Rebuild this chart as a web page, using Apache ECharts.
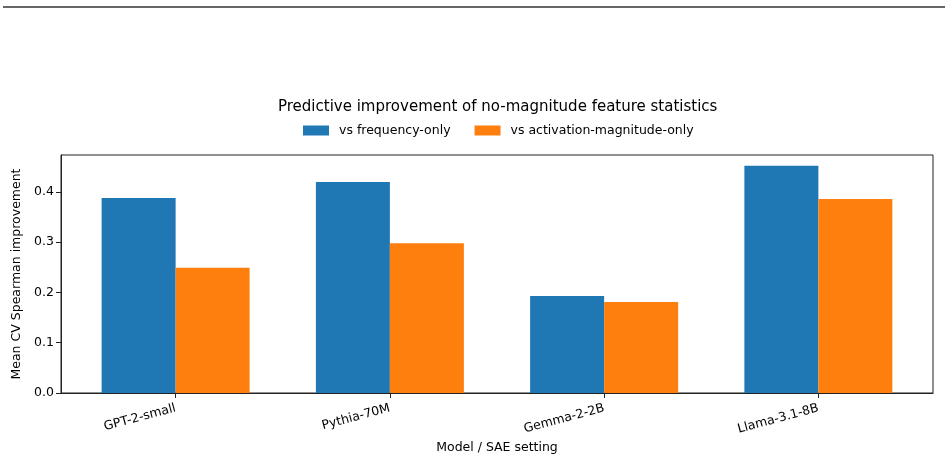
<!DOCTYPE html>
<html>
<head>
<meta charset="utf-8">
<script src="https://cdn.jsdelivr.net/npm/echarts@6/dist/echarts.min.js"></script>
<style>
  html, body { margin: 0; padding: 0; background: #fff; }
  #chart { width: 948px; height: 460px; }
</style>
</head>
<body>
<div id="chart"></div>
<script>
// data
const models = ['GPT-2-small', 'Pythia-70M', 'Gemma-2-2B', 'Llama-3.1-8B'];
const vsFrequency = [0.388, 0.420, 0.193, 0.452];
const vsMagnitude = [0.249, 0.298, 0.181, 0.386];
const yTicks = [0, 0.1, 0.2, 0.3, 0.4];

const font = 'DejaVu Sans';
const positions = models.map((m, i) => i);

const chart = echarts.init(document.getElementById('chart'));

chart.setOption({
  animation: false,
  textStyle: { fontFamily: font },
  graphic: [
    // thin rule across the top of the figure
    { type: 'line', shape: { x1: 3, y1: 7, x2: 945, y2: 7 }, style: { stroke: '#333', lineWidth: 1.5 } }
  ],
  title: {
    text: 'Predictive improvement of no-magnitude feature statistics',
    left: 273,
    top: 95,
    textStyle: { fontFamily: font, fontSize: 15, fontWeight: 'normal', color: '#000' }
  },
  legend: {
    left: 303,
    top: 124,
    padding: 0,
    itemWidth: 26,
    itemHeight: 10,
    itemGap: 24,
    icon: 'rect',
    textStyle: { fontFamily: font, fontSize: 12.5, color: '#000', padding: [0, 0, 0, 5] }
  },
  grid: {
    left: 61, right: 15, top: 155, bottom: 67,
    outerBoundsMode: 'none',
    show: true, borderColor: '#222', borderWidth: 1, backgroundColor: 'transparent'
  },
  xAxis: {
    type: 'value',
    min: -0.535,
    max: 3.535,
    name: 'Model / SAE setting',
    nameLocation: 'middle',
    nameGap: 48,
    nameTextStyle: { fontFamily: font, fontSize: 12.5, color: '#000' },
    axisLine: { show: true, onZero: false, lineStyle: { color: '#222' } },
    axisTick: { show: true, length: 5, lineStyle: { color: '#222' }, customValues: positions },
    axisLabel: {
      customValues: positions,
      rotate: 15,
      margin: 15,
      fontFamily: font, fontSize: 12.5, color: '#000',
      formatter: v => models[Math.round(v)]
    },
    splitLine: { show: false }
  },
  yAxis: {
    type: 'value',
    min: 0,
    max: 0.4736,
    name: 'Mean CV Spearman improvement',
    nameLocation: 'middle',
    nameGap: 36,
    nameTextStyle: { fontFamily: font, fontSize: 12.5, color: '#000' },
    axisLine: { show: true, onZero: false, lineStyle: { color: '#222' } },
    axisTick: { show: true, length: 5, lineStyle: { color: '#222' }, customValues: yTicks },
    axisLabel: {
      customValues: yTicks,
      margin: 7,
      fontFamily: font, fontSize: 12.5, color: '#000',
      formatter: v => v.toFixed(1)
    },
    splitLine: { show: false }
  },
  series: [
    {
      name: 'vs frequency-only',
      type: 'bar',
      barWidth: 74,
      barGap: '0%',
      itemStyle: { color: '#1f77b4' },
      data: positions.map((x, i) => [x, vsFrequency[i]])
    },
    {
      name: 'vs activation-magnitude-only',
      type: 'bar',
      barWidth: 74,
      barGap: '0%',
      itemStyle: { color: '#ff7f0e' },
      data: positions.map((x, i) => [x, vsMagnitude[i]])
    }
  ]
});
</script>
</body>
</html>
